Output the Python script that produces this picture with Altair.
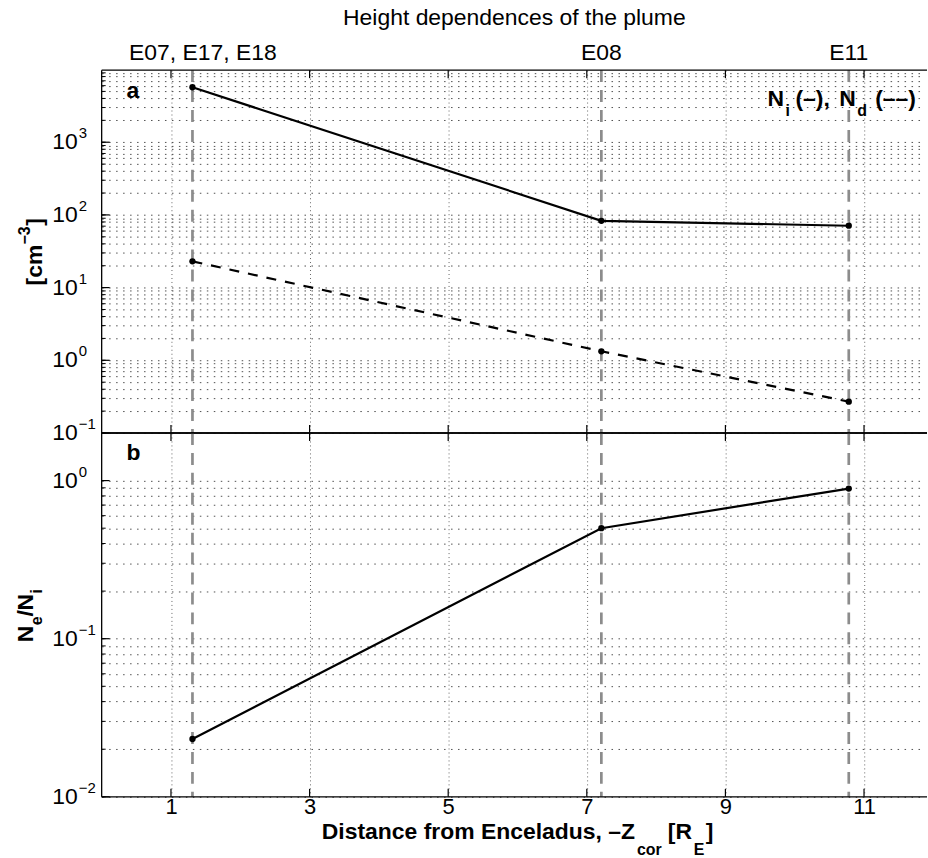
import altair as alt
import pandas as pd

# ---------------- data ----------------
x_pos = [1.31, 7.21, 10.78]
flyby_labels = ["E07, E17, E18", "E08", "E11"]
label_x = [1.46, 7.21, 10.78]
n_ion = [5700, 83, 71]
n_dust = [23, 1.33, 0.27]
ratio = [0.0232, 0.5, 0.89]
x_ticks = [1, 3, 5, 7, 9, 11]
a_decades = [0.1, 1, 10, 100, 1000]
a_exps = ["\u22121", "0", "1", "2", "3"]
b_decades = [0.01, 0.1, 1]
b_exps = ["\u22122", "\u22121", "0"]
a_domain = [0.1, 9800]
b_domain = [0.01, 2]
x_domain = [0, 11.88]

FONT = "Liberation Sans"
W, HA, HB = 826, 364, 365

a_grid = [round(m * d, 6) for d in a_decades for m in range(1, 10) if m * d <= a_domain[1]]
b_grid = [round(m * d, 6) for d in b_decades for m in range(1, 10) if m * d <= b_domain[1]]

df_a = pd.DataFrame({"x": x_pos, "ni": n_ion, "nd": n_dust})
df_b = pd.DataFrame({"x": x_pos, "r": ratio})
df_fly = pd.DataFrame({"x": x_pos})
df_lab = pd.DataFrame({"x": label_x, "t": flyby_labels})
df_xt = pd.DataFrame({"x": x_ticks})
df_adec = pd.DataFrame({"v": a_decades, "e": a_exps})
df_bdec = pd.DataFrame({"v": b_decades, "e": b_exps})
df_agrid = pd.DataFrame({"v": a_grid})
df_bgrid = pd.DataFrame({"v": b_grid})


def xscale():
    return alt.Scale(domain=x_domain, nice=False, zero=False)


def one():
    return alt.Data(values=[{}])


def ann(text, x, y, size=23, bold=True, angle=0, align="left"):
    return alt.Chart(one()).mark_text(
        fontSize=size, fontWeight="bold" if bold else "normal", font=FONT,
        angle=angle, align=align, baseline="alphabetic", color="black"
    ).encode(x=alt.value(x), y=alt.value(y), text=alt.value(text))


def anchor(x, y):
    # invisible 1px element fixing the layout bounds of the page
    return alt.Chart(one()).mark_rule(strokeOpacity=0, strokeWidth=1).encode(
        x=alt.value(x), x2=alt.value(x + 1), y=alt.value(y), y2=alt.value(y + 1))


def frame_line(x, x2, y, y2):
    return alt.Chart(one()).mark_rule(color="black", strokeWidth=1.3).encode(
        x=alt.value(x), x2=alt.value(x2), y=alt.value(y), y2=alt.value(y2))


def panel(df, ydomain, grid_df, dec_df, H, show_xlabels, extra_lines):
    ysc = alt.Scale(type="log", domain=ydomain, nice=False)
    xaxis = alt.Axis(values=x_ticks, grid=True, gridDash=[1, 3], gridColor="#666666",
                     gridWidth=1, ticks=False, domain=False, title=None,
                     labels=show_xlabels, labelFont=FONT, labelFontSize=22,
                     labelColor="black", labelPadding=0)
    yaxis = alt.Axis(values=list(grid_df["v"]), grid=True, gridDash=[1.5, 5.5],
                     gridColor="#333333", gridOpacity=0.85, gridWidth=1,
                     labels=False, ticks=False, domain=False, title=None)
    base_grid = alt.Chart(grid_df).mark_rule(opacity=0).encode(
        x=alt.X("x:Q", scale=xscale(), axis=xaxis),
        y=alt.Y("v:Q", scale=ysc, axis=yaxis),
    ).transform_calculate(x="1")
    fly = alt.Chart(df_fly).mark_rule(color="#8c8c8c", strokeWidth=2.7, strokeDash=[12, 8]).encode(
        x=alt.X("x:Q", scale=xscale(), axis=None), y=alt.value(0), y2=alt.value(H))
    xt_bot = alt.Chart(df_xt).mark_rule(color="black", strokeWidth=1.2).encode(
        x=alt.X("x:Q", scale=xscale(), axis=None), y=alt.value(H - 8), y2=alt.value(H))
    xt_top = alt.Chart(df_xt).mark_rule(color="black", strokeWidth=1.2).encode(
        x=alt.X("x:Q", scale=xscale(), axis=None), y=alt.value(0), y2=alt.value(8))
    yt_min = alt.Chart(grid_df).mark_rule(color="black", strokeWidth=1).encode(
        y=alt.Y("v:Q", scale=ysc, axis=None), x=alt.value(0), x2=alt.value(4))
    yt_maj = alt.Chart(dec_df).mark_rule(color="black", strokeWidth=1.2).encode(
        y=alt.Y("v:Q", scale=ysc, axis=None), x=alt.value(0), x2=alt.value(8))
    lab10 = alt.Chart(dec_df).mark_text(font=FONT, fontSize=23, align="right",
                                        baseline="middle", color="black").encode(
        y=alt.Y("v:Q", scale=ysc, axis=None), x=alt.value(-24), text=alt.value("10"))
    labexp = alt.Chart(dec_df).mark_text(font=FONT, fontSize=15, align="left",
                                         baseline="middle", dy=-9, color="black").encode(
        y=alt.Y("v:Q", scale=ysc, axis=None), x=alt.value(-23), text="e:N")
    layers = [base_grid, fly, xt_bot, xt_top, yt_min, yt_maj, lab10, labexp,
              frame_line(0, W + 2, 0, 0), frame_line(0, W + 2, H, H), frame_line(0, 0, 0, H)]
    for col, dash in extra_lines:
        kw = {"strokeDash": dash} if dash else {}
        layers.append(alt.Chart(df).mark_line(color="black", strokeWidth=2.2, **kw).encode(
            x=alt.X("x:Q", scale=xscale(), axis=None),
            y=alt.Y(f"{col}:Q", scale=ysc, axis=None)))
        layers.append(alt.Chart(df).mark_circle(color="black", size=40, opacity=1).encode(
            x=alt.X("x:Q", scale=xscale(), axis=None),
            y=alt.Y(f"{col}:Q", scale=ysc, axis=None)))
    return layers


layers_a = panel(df_a, a_domain, df_agrid, df_adec, HA, False,
                 [("ni", None), ("nd", [10, 9])])
flylab = alt.Chart(df_lab).mark_text(font=FONT, fontSize=23, align="center",
                                     baseline="alphabetic", color="black").encode(
    x=alt.X("x:Q", scale=xscale(), axis=None), y=alt.value(-10), text="t:N")
layers_a += [
    flylab,
    anchor(-102, -69),
    ann("Height dependences of the plume", 414, -45, bold=False, align="center"),
    ann("a", 25, 28),
    ann("N", 668, 36), ann("i", 686, 46, size=16), ann("(\u2013),", 696, 36),
    ann("N", 740, 36), ann("d", 758, 46, size=16), ann("(\u2013\u2013)", 776, 36),
    ann("[cm", -60, 216, angle=270), ann("\u22123", -72, 175, size=16, angle=270),
    ann("]", -60, 156, angle=270),
]
panel_a = alt.layer(*layers_a).resolve_axis(x="independent", y="independent").properties(
    width=W, height=HA)

layers_b = panel(df_b, b_domain, df_bgrid, df_bdec, HB, True, [("r", None)])
layers_b += [
    anchor(0, HB + 59),
    ann("b", 25, 27),
    ann("Distance from Enceladus, \u2013Z", 535, 407, align="right"),
    ann("cor", 537, 423, size=16),
    ann("[R", 568, 407),
    ann("E", 594, 423, size=16),
    ann("]", 606, 407),
    ann("N", -69, 210, angle=270), ann("e", -60, 193, size=16, angle=270),
    ann("/", -69, 184, angle=270), ann("N", -69, 178, angle=270),
    ann("i", -60, 161, size=16, angle=270),
]
panel_b = alt.layer(*layers_b).resolve_axis(x="independent", y="independent").properties(
    width=W, height=HB)

chart = alt.vconcat(panel_a, panel_b, spacing=0, bounds="flush").properties(
    padding={"left": 0, "top": 0, "right": 0, "bottom": 0},
    autosize=alt.AutoSizeParams(type="pad"),
    background="white",
).configure_view(stroke=None)

chart.save("out.html", embed_options={"renderer": "svg", "actions": False})
